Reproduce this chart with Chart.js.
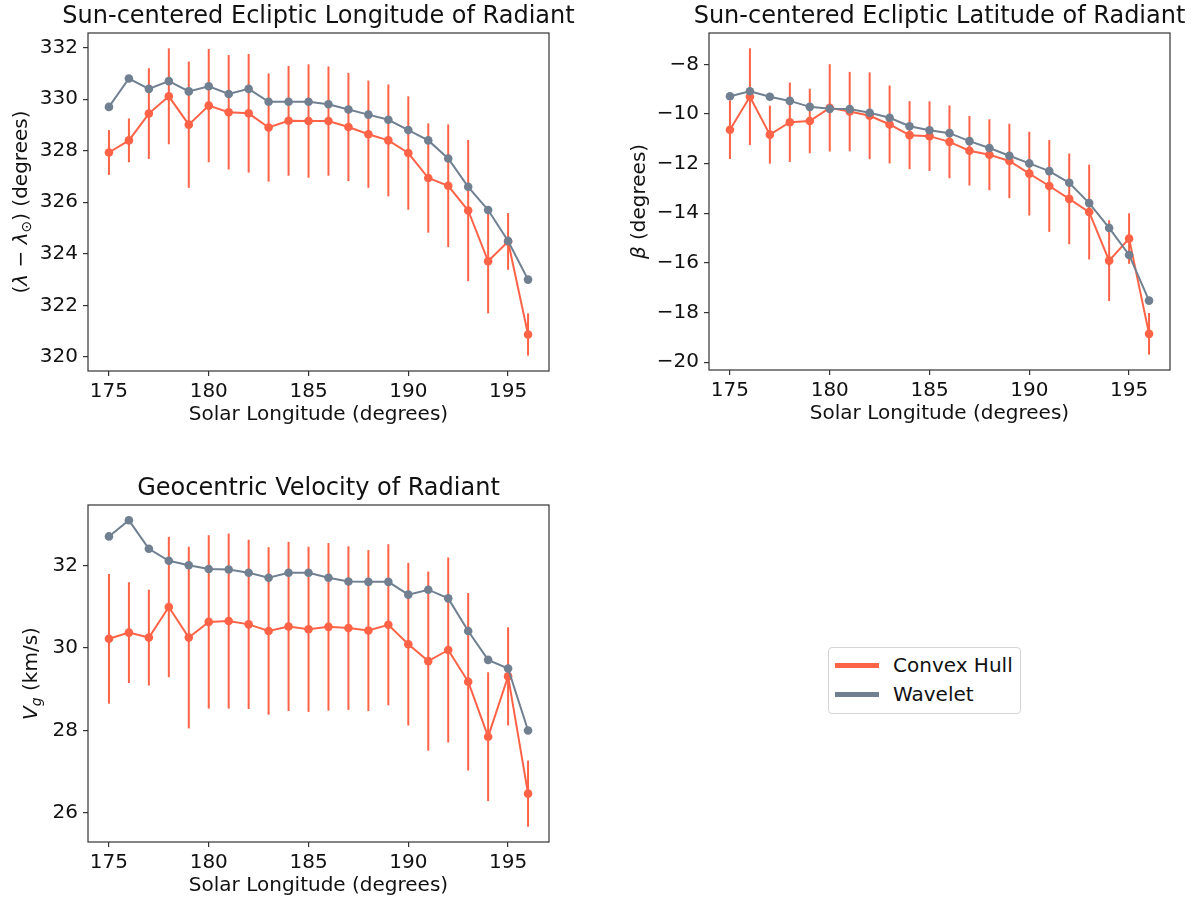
<!DOCTYPE html>
<html>
<head>
<meta charset="utf-8">
<title>Radiant drift</title>
<script src="https://cdn.jsdelivr.net/npm/chart.js@4.4.0/dist/chart.umd.min.js"></script>
<style>
  body { margin: 0; background: #fff; width: 1194px; height: 898px; position: relative; overflow: hidden; font-family: "DejaVu Sans", sans-serif; }
  canvas { position: absolute; }
  #lonChart { left: 8px; top: 0; }
  #latChart { left: 628px; top: 0; }
  #vgChart { left: 8px; top: 472px; }
  .legend { position: absolute; left: 828px; top: 647px; width: 191px; height: 65px; border: 1px solid #d4d4d4; border-radius: 4px; background: #fff; }
  .legend .row { position: absolute; left: 0; height: 24px; font-size: 20px; line-height: 24px; color: #111; }
  .legend .swatch { position: absolute; left: 6px; top: 10px; width: 44px; height: 5px; }
  .legend .label { position: absolute; left: 64px; top: 0; white-space: nowrap; }
</style>
</head>
<body>
<canvas id="lonChart" width="590" height="430"></canvas>
<canvas id="latChart" width="566" height="430"></canvas>
<canvas id="vgChart" width="590" height="426"></canvas>
<div class="legend">
  <div class="row" style="top:5px"><span class="swatch" style="background:#ff6347"></span><span class="label">Convex Hull</span></div>
  <div class="row" style="top:34px"><span class="swatch" style="background:#708090"></span><span class="label">Wavelet</span></div>
</div>
<script>
// Solar longitude bins (degrees)
const solarLon = [175, 176, 177, 178, 179, 180, 181, 182, 183, 184, 185, 186, 187, 188, 189, 190, 191, 192, 193, 194, 195, 196];
const solarTicks = [175, 180, 185, 190, 195];

// Sun-centered ecliptic longitude (lambda - lambda_sun)
const lonConvex = [327.93, 328.40, 329.44, 330.11, 329.01, 329.75, 329.49, 329.45, 328.90, 329.16, 329.15,
                   329.15, 328.92, 328.64, 328.40, 327.91, 326.94, 326.64, 325.68, 323.71, 324.48, 320.87];
const lonConvexErr = [0.87, 0.85, 1.76, 1.86, 2.45, 2.20, 2.22, 2.30, 2.10, 2.13, 2.20,
                      2.12, 2.10, 2.08, 2.17, 2.20, 2.12, 2.38, 2.74, 2.02, 1.10, 0.82];
const lonWavelet = [329.7, 330.8, 330.4, 330.7, 330.3, 330.5, 330.2, 330.4, 329.9, 329.9, 329.9,
                    329.8, 329.6, 329.4, 329.2, 328.8, 328.4, 327.7, 326.6, 325.7, 324.5, 323.0];
const lonTicks = [320, 322, 324, 326, 328, 330, 332];

// Sun-centered ecliptic latitude (beta)
const latConvex = [-10.63, -9.30, -10.83, -10.33, -10.28, -9.75, -9.90, -10.07, -10.42, -10.85, -10.89,
                   -11.12, -11.48, -11.64, -11.89, -12.40, -12.90, -13.42, -13.95, -15.91, -15.02, -18.86];
const latConvexErr = [1.18, 1.95, 1.17, 1.60, 1.30, 1.76, 1.60, 1.75, 1.57, 1.37, 1.40,
                      1.47, 1.40, 1.43, 1.50, 1.69, 1.85, 1.83, 1.91, 1.63, 1.02, 0.84];
const latWavelet = [-9.28, -9.08, -9.30, -9.47, -9.71, -9.79, -9.80, -9.95, -10.15, -10.49, -10.65,
                    -10.77, -11.09, -11.37, -11.68, -11.99, -12.30, -12.77, -13.59, -14.59, -15.68, -17.52];
const latTicks = [-20, -18, -16, -14, -12, -10, -8];

// Geocentric velocity (km/s)
const vgConvex = [30.22, 30.37, 30.25, 30.99, 30.25, 30.63, 30.65, 30.57, 30.41, 30.52, 30.45,
                  30.51, 30.48, 30.42, 30.56, 30.09, 29.68, 29.95, 29.18, 27.85, 29.31, 26.47];
const vgConvexErr = [1.57, 1.22, 1.16, 1.70, 2.20, 2.10, 2.12, 2.05, 2.03, 2.05, 2.00,
                     2.03, 1.98, 1.95, 1.95, 1.97, 2.17, 2.24, 2.15, 1.56, 1.19, 0.80];
const vgWavelet = [32.70, 33.09, 32.40, 32.11, 32.00, 31.91, 31.90, 31.82, 31.70, 31.82, 31.82,
                   31.70, 31.61, 31.60, 31.60, 31.29, 31.41, 31.20, 30.41, 29.71, 29.50, 28.00];
const vgTicks = [26, 28, 30, 32];

const TOMATO = '#ff6347';
const SLATE = '#708090';
const FONT = '"DejaVu Sans", sans-serif';
const INK = '#111';

// 5% margin either side, like the default autoscale
function padRange(values) {
    const lo = Math.min(...values), hi = Math.max(...values);
    const d = (hi - lo) * 0.05;
    return [lo - d, hi + d];
}

function pairs(values) {
    return values.map((v, i) => ({ x: solarLon[i], y: v }));
}

// Vertical error bars for any dataset carrying an `errors` array
const errorBarPlugin = {
    id: 'errorBars',
    beforeDatasetsDraw(chart) {
        const { ctx, chartArea: a, scales } = chart;
        chart.data.datasets.forEach((ds, di) => {
            if (!ds.errors) return;
            const meta = chart.getDatasetMeta(di);
            ctx.save();
            ctx.beginPath();
            ctx.rect(a.left, a.top, a.width, a.height);
            ctx.clip();
            ctx.strokeStyle = ds.borderColor;
            ctx.lineWidth = 2;
            meta.data.forEach((pt, i) => {
                const v = ds.data[i].y, e = ds.errors[i];
                ctx.beginPath();
                ctx.moveTo(pt.x, scales.y.getPixelForValue(v - e));
                ctx.lineTo(pt.x, scales.y.getPixelForValue(v + e));
                ctx.stroke();
            });
            ctx.restore();
        });
    }
};

// Box round the plot area
const framePlugin = {
    id: 'frame',
    afterDatasetsDraw(chart) {
        const { ctx, chartArea: a } = chart;
        ctx.save();
        ctx.strokeStyle = '#333';
        ctx.lineWidth = 1.2;
        ctx.strokeRect(a.left, a.top, a.width, a.height);
        ctx.restore();
    }
};

// Panel title centred over the plot area rather than the canvas
function panelTitlePlugin(text) {
    return {
        id: 'panelTitle',
        afterDraw(chart) {
            const { ctx, chartArea: a } = chart;
            ctx.save();
            ctx.font = '24px ' + FONT;
            ctx.fillStyle = INK;
            ctx.textAlign = 'center';
            ctx.textBaseline = 'middle';
            ctx.fillText(text, (a.left + a.right) / 2, 17);
            ctx.restore();
        }
    };
}

// Rotated y-axis label with italic symbols and subscripts
function yTitlePlugin(parts, x) {
    return {
        id: 'yTitle',
        afterDraw(chart) {
            const { ctx, chartArea: a } = chart;
            const fontFor = p => (p.italic ? 'italic ' : '') + (p.sub ? 14 : 20) + 'px ' + FONT;
            ctx.save();
            const widths = parts.map(p => { ctx.font = fontFor(p); return ctx.measureText(p.text).width; });
            const total = widths.reduce((s, w) => s + w, 0);
            ctx.translate(x, (a.top + a.bottom) / 2);
            ctx.rotate(-Math.PI / 2);
            ctx.textBaseline = 'middle';
            ctx.fillStyle = INK;
            let cx = -total / 2;
            parts.forEach((p, i) => {
                ctx.font = fontFor(p);
                ctx.fillText(p.text, cx, p.sub ? 5 : 0);
                cx += widths[i];
            });
            ctx.restore();
        }
    };
}

function buildChart(id, o) {
    const yVals = o.convex.map((v, i) => v - o.errors[i])
        .concat(o.convex.map((v, i) => v + o.errors[i]), o.wavelet);
    const [yMin, yMax] = padRange(yVals);
    const [xMin, xMax] = padRange(solarLon);

    return new Chart(document.getElementById(id), {
        type: 'line',
        data: {
            datasets: [
                { label: 'Wavelet', data: pairs(o.wavelet), borderColor: SLATE, backgroundColor: SLATE, order: 0 },
                { label: 'Convex Hull', data: pairs(o.convex), errors: o.errors, borderColor: TOMATO, backgroundColor: TOMATO, order: 1 }
            ]
        },
        options: {
            responsive: false,
            animation: false,
            devicePixelRatio: 1,
            layout: { padding: { left: 0, right: o.padRight, top: 33, bottom: o.padBottom } },
            elements: {
                line: { borderWidth: 2, tension: 0 },
                point: { radius: 4.3, borderWidth: 0, hoverRadius: 4.3 }
            },
            plugins: {
                legend: { display: false },
                tooltip: { enabled: false },
                title: { display: false }
            },
            scales: {
                x: {
                    type: 'linear', min: xMin, max: xMax,
                    afterBuildTicks: s => { s.ticks = solarTicks.map(v => ({ value: v })); },
                    afterFit: s => { s.height = 56; },
                    grid: { drawOnChartArea: false, tickLength: 5, color: '#333', lineWidth: 1.2 },
                    border: { display: false },
                    ticks: { color: INK, font: { family: FONT, size: 20 }, padding: 4, maxRotation: 0 },
                    title: { display: true, text: 'Solar Longitude (degrees)', color: INK, font: { family: FONT, size: 20 }, padding: 0 }
                },
                y: {
                    type: 'linear', min: yMin, max: yMax,
                    afterBuildTicks: s => { s.ticks = o.yTicks.map(v => ({ value: v })); },
                    afterFit: s => { s.width = o.yWidth; },
                    grid: { drawOnChartArea: false, tickLength: 5, color: '#333', lineWidth: 1.2 },
                    border: { display: false },
                    ticks: {
                        color: INK, font: { family: FONT, size: 20 }, padding: 5,
                        callback: v => String(v).replace('-', '\u2212')
                    }
                }
            }
        },
        plugins: [errorBarPlugin, framePlugin, panelTitlePlugin(o.title), yTitlePlugin(o.yLabel, o.yLabelX)]
    });
}

buildChart('lonChart', {
    title: 'Sun-centered Ecliptic Longitude of Radiant',
    convex: lonConvex, errors: lonConvexErr, wavelet: lonWavelet, yTicks: lonTicks,
    yWidth: 80, padRight: 49, padBottom: 3, yLabelX: 14,
    yLabel: [
        { text: '(' }, { text: '\u03bb', italic: true }, { text: ' \u2212 ' },
        { text: '\u03bb', italic: true }, { text: '\u2299', sub: true }, { text: ') (degrees)' }
    ]
});

buildChart('latChart', {
    title: 'Sun-centered Ecliptic Latitude of Radiant',
    convex: latConvex, errors: latConvexErr, wavelet: latWavelet, yTicks: latTicks,
    yWidth: 81, padRight: 24, padBottom: 4, yLabelX: 12,
    yLabel: [{ text: '\u03b2', italic: true }, { text: ' (degrees)' }]
});

buildChart('vgChart', {
    title: 'Geocentric Velocity of Radiant',
    convex: vgConvex, errors: vgConvexErr, wavelet: vgWavelet, yTicks: vgTicks,
    yWidth: 80, padRight: 49, padBottom: 0, yLabelX: 24,
    yLabel: [{ text: 'V', italic: true }, { text: 'g', italic: true, sub: true }, { text: ' (km/s)' }]
});
</script>
</body>
</html>
